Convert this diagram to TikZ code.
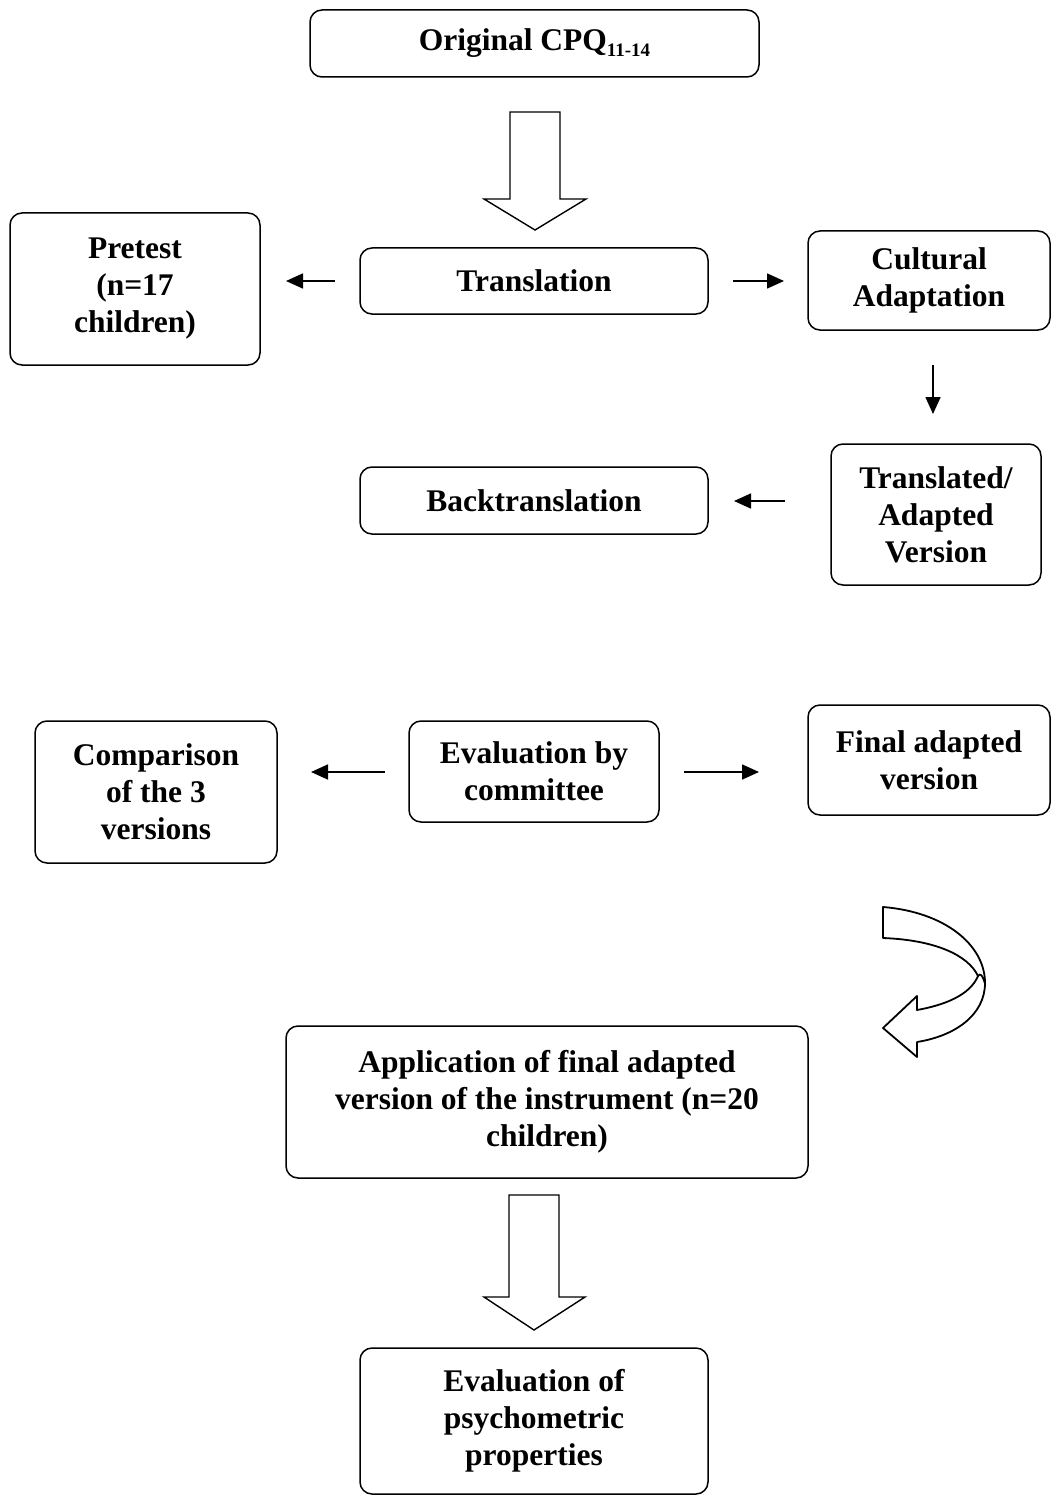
\documentclass[tikz,border=0pt]{standalone}
\usepackage{fontspec}
\setmainfont{Liberation Serif}
\usetikzlibrary{arrows.meta}
\begin{document}
\begin{tikzpicture}[x=1pt,y=-1pt,
  box/.style={draw,line width=1.5pt,rounded corners=12pt,align=center,inner sep=0pt,
    font=\fontsize{31.5}{37}\selectfont\bfseries},
  conn/.style={line width=1.6pt,-{Triangle[length=17pt,width=15pt]}},
  bigarrow/.style={draw,line width=1.4pt,fill=white,line join=miter}]
\useasboundingbox (0,0) rectangle (1051,1495);
% boxes
\node[box,minimum width=449pt,minimum height=67pt] (orig) at (534.5,43.5)
  {\raisebox{-2pt}{Original CPQ\raisebox{-6pt}{\fontsize{19}{19}\selectfont 11-14}}};
\node[box,minimum width=250pt,minimum height=152pt] (pre) at (135,289) {Pretest\\(n=17\\children)};
\node[box,minimum width=348pt,minimum height=66pt] (trans) at (534,281) {Translation};
\node[box,minimum width=242pt,minimum height=99pt] (cult) at (929,280.5) {Cultural\\Adaptation};
\node[box,minimum width=210pt,minimum height=141pt] (ta) at (936,514.5) {Translated/\\Adapted\\Version};
\node[box,minimum width=348pt,minimum height=67pt] (back) at (534,500.5) {Backtranslation};
\node[box,minimum width=242pt,minimum height=142pt] (comp) at (156,792) {Comparison\\of the 3\\versions};
\node[box,minimum width=250pt,minimum height=101pt] (evc) at (534,771.5) {Evaluation by\\committee};
\node[box,minimum width=242pt,minimum height=110pt] (fin) at (929,760) {Final adapted\\version};
\node[box,minimum width=522pt,minimum height=152pt] (app) at (547,1102)
  {Application of final adapted\\version of the instrument (n=20\\children)};
\node[box,minimum width=348pt,minimum height=146pt] (psy) at (534,1421) {Evaluation of\\psychometric\\properties};
% small connectors
\coordinate (a1s) at (335,281); \coordinate (a1e) at (286,281);
\coordinate (a2s) at (733,281); \coordinate (a2e) at (784,281);
\coordinate (a3s) at (933,365); \coordinate (a3e) at (933,414);
\coordinate (a4s) at (785,501); \coordinate (a4e) at (734,501);
\coordinate (a5s) at (385,772); \coordinate (a5e) at (311,772);
\coordinate (a6s) at (684,772); \coordinate (a6e) at (759,772);
\draw[conn] (a1s) -- (a1e);
\draw[conn] (a2s) -- (a2e);
\draw[conn] (a3s) -- (a3e);
\draw[conn] (a4s) -- (a4e);
\draw[conn] (a5s) -- (a5e);
\draw[conn] (a6s) -- (a6e);
% big block arrows
\draw[bigarrow] (510,112) -- (560,112) -- (560,199) -- (586,199) -- (535,230) -- (484,199) -- (510,199) -- cycle;
\draw[bigarrow] (509,1195) -- (559,1195) -- (559,1297) -- (585,1297) -- (534,1330) -- (484,1297) -- (509,1297) -- cycle;
% curved arrow
\draw[bigarrow,line width=1.8pt,line join=round]
  (883,907) .. controls (945,912) and (985,945) .. (985,983)
  .. controls (985,1015) and (955,1036) .. (917,1042)
  -- (917,1057) -- (883,1028) -- (917,996) -- (917,1010)
  .. controls (945,1005) and (970,995) .. (978,976)
  .. controls (968,955) and (935,940) .. (883,938) -- cycle;
\draw[line width=1.8pt] (978,976) .. controls (982,970) and (985,985) .. (985,983);
\end{tikzpicture}
\end{document}
